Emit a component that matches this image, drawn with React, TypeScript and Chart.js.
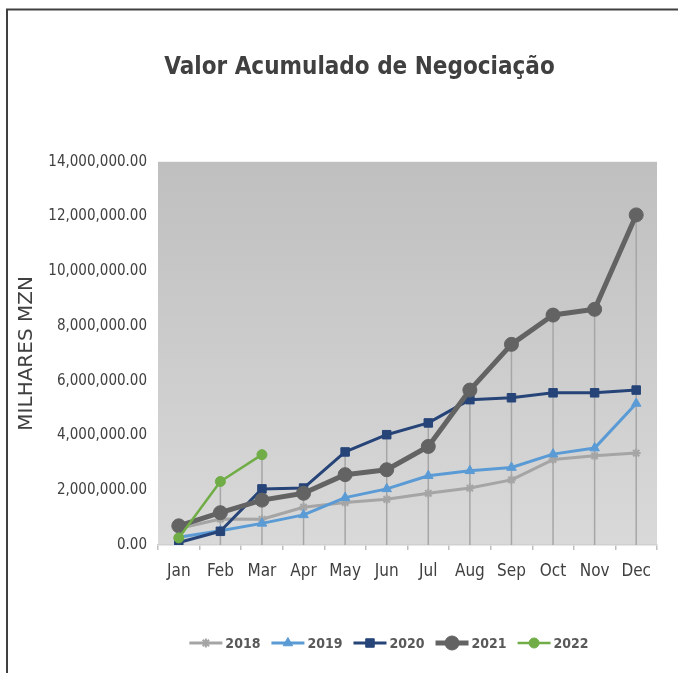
import React, { useEffect, useRef } from 'react';
import { Chart, registerables } from 'chart.js';

Chart.register(...registerables);

// ---- Data ----
const months = ['Jan', 'Feb', 'Mar', 'Apr', 'May', 'Jun', 'Jul', 'Aug', 'Sep', 'Oct', 'Nov', 'Dec'];
const seriesLabels = ['2018', '2019', '2020', '2021', '2022'];
const v2018 = [600000, 950000, 940000, 1380000, 1550000, 1670000, 1890000, 2080000, 2380000, 3120000, 3260000, 3360000];
const v2019 = [280000, 520000, 790000, 1100000, 1730000, 2050000, 2530000, 2710000, 2830000, 3320000, 3540000, 5170000];
const v2020 = [90000, 500000, 2050000, 2080000, 3400000, 4030000, 4460000, 5310000, 5380000, 5560000, 5560000, 5660000];
const v2021 = [700000, 1180000, 1640000, 1890000, 2570000, 2750000, 3600000, 5660000, 7330000, 8400000, 8610000, 12060000];
const v2022 = [260000, 2320000, 3300000];
const yMin = 0;
const yMax = 14000000;
const yStep = 2000000;

const NARROW = '"Liberation Sans Narrow", "DejaVu Sans Condensed", "Arial Narrow", sans-serif';
const WIDE = '"DejaVu Sans", "Liberation Sans", sans-serif';

function drawMarker(
  ctx: CanvasRenderingContext2D,
  style: string,
  r: number,
  x: number,
  y: number,
  fill: string,
  stroke: string,
  bw: number
) {
  ctx.save();
  ctx.fillStyle = fill;
  ctx.strokeStyle = stroke;
  ctx.lineWidth = bw;
  ctx.beginPath();
  if (style === 'circle') {
    ctx.arc(x, y, r, 0, Math.PI * 2);
    ctx.closePath();
    ctx.fill();
    if (bw) ctx.stroke();
  } else if (style === 'triangle') {
    let rad = 0;
    ctx.moveTo(x + Math.sin(rad) * r, y - Math.cos(rad) * r);
    rad += (2 * Math.PI) / 3;
    ctx.lineTo(x + Math.sin(rad) * r, y - Math.cos(rad) * r);
    rad += (2 * Math.PI) / 3;
    ctx.lineTo(x + Math.sin(rad) * r, y - Math.cos(rad) * r);
    ctx.closePath();
    ctx.fill();
    if (bw) ctx.stroke();
  } else if (style === 'rect') {
    const s = r * Math.SQRT1_2;
    ctx.rect(x - s, y - s, 2 * s, 2 * s);
    ctx.fill();
    if (bw) ctx.stroke();
  } else if (style === 'star') {
    for (let k = 0; k < 4; k++) {
      const a = (k * Math.PI) / 4;
      ctx.moveTo(x + Math.cos(a) * r, y + Math.sin(a) * r);
      ctx.lineTo(x - Math.cos(a) * r, y - Math.sin(a) * r);
    }
    ctx.stroke();
  }
  ctx.restore();
}

const bgPlugin = {
  id: 'plotBg',
  beforeDraw(chart: any) {
    const { ctx, chartArea } = chart;
    if (!chartArea) return;
    const { left, top, right, bottom } = chartArea;
    ctx.save();
    const g = ctx.createLinearGradient(0, top, 0, bottom);
    g.addColorStop(0, '#bfbfbf');
    g.addColorStop(1, '#d9d9d9');
    ctx.fillStyle = g;
    ctx.fillRect(left, top, right - left, bottom - top);
    ctx.restore();
  },
};

const dropLinePlugin = {
  id: 'dropLines',
  beforeDatasetsDraw(chart: any) {
    const { ctx, chartArea, scales } = chart;
    const ds = chart.data.datasets;
    ctx.save();
    ctx.strokeStyle = '#a6a6a6';
    ctx.lineWidth = 1.5;
    chart.data.labels.forEach((_: any, i: number) => {
      let max = -Infinity;
      ds.forEach((d: any) => {
        const v = d.data[i];
        if (typeof v === 'number' && v > max) max = v;
      });
      if (max === -Infinity) return;
      const x = scales.x.getPixelForValue(i);
      const y = scales.y.getPixelForValue(max);
      ctx.beginPath();
      ctx.moveTo(x, y);
      ctx.lineTo(x, chartArea.bottom);
      ctx.stroke();
    });
    ctx.restore();
  },
};

const legendPlugin = {
  id: 'customLegend',
  afterDraw(chart: any) {
    const { ctx } = chart;
    const ds = chart.data.datasets;
    ctx.save();
    ctx.font = `bold 14px ${NARROW}`;
    const lineLen = 33;
    const gap = 3;
    const itemPad = 11;
    const widths = ds.map((d: any) => lineLen + gap + ctx.measureText(d.label).width);
    const total = widths.reduce((a: number, b: number) => a + b, 0) + itemPad * (ds.length - 1);
    let x = 389 - total / 2;
    const y = 643;
    ds.forEach((d: any, i: number) => {
      ctx.strokeStyle = d.borderColor;
      ctx.lineWidth = d.borderWidth;
      ctx.lineCap = 'butt';
      ctx.beginPath();
      ctx.moveTo(x, y);
      ctx.lineTo(x + lineLen, y);
      ctx.stroke();
      drawMarker(ctx, d.pointStyle, d.pointRadius, x + lineLen / 2, y, d.pointBackgroundColor, d.pointBorderColor, d.pointBorderWidth);
      ctx.fillStyle = '#595959';
      ctx.textAlign = 'left';
      ctx.textBaseline = 'middle';
      ctx.fillText(d.label, x + lineLen + gap, y + 1);
      x += widths[i] + itemPad;
    });
    ctx.restore();
  },
};

const framePlugin = {
  id: 'frame',
  afterDraw(chart: any) {
    const { ctx } = chart;
    ctx.save();
    ctx.strokeStyle = '#404040';
    ctx.lineWidth = 2;
    ctx.beginPath();
    ctx.moveTo(7, 700);
    ctx.lineTo(7, 9.5);
    ctx.lineTo(760, 9.5);
    ctx.stroke();
    ctx.restore();
  },
};

export default function App() {
  const ref = useRef<HTMLCanvasElement>(null);

  useEffect(() => {
    if (!ref.current) return;
    const colors = ['#a5a5a5', '#5b9bd5', '#264478', '#636363', '#70ad47'];
    const widths = [3, 3, 3, 5, 2.5];
    const styles = ['star', 'triangle', 'rect', 'circle', 'circle'];
    const radii = [4.5, 5.5, 6, 7, 5];
    const values = [v2018, v2019, v2020, v2021, v2022];
    const datasets = values.map((vals, i) => ({
      label: seriesLabels[i],
      data: vals,
      borderColor: colors[i],
      backgroundColor: colors[i],
      borderWidth: widths[i],
      pointStyle: styles[i],
      pointRadius: radii[i],
      pointBackgroundColor: colors[i],
      pointBorderColor: colors[i],
      pointBorderWidth: styles[i] === 'star' ? 2 : 1,
      tension: 0,
      borderJoinStyle: 'round' as const,
      fill: false,
      order: 5 - i,
    }));

    const chart = new Chart(ref.current, {
      type: 'line',
      data: { labels: months, datasets },
      plugins: [bgPlugin, dropLinePlugin, legendPlugin, framePlugin],
      options: {
        responsive: false,
        animation: false,
        devicePixelRatio: 1,
        layout: { padding: { left: 15, right: 15, top: 0, bottom: 92 } },
        plugins: {
          legend: { display: false },
          tooltip: { enabled: false },
          title: {
            display: true,
            text: 'Valor Acumulado de Negociação',
            color: '#404040',
            font: { family: NARROW, size: 24, weight: 'bold' },
            padding: { top: 53, bottom: 80 },
          },
        },
        scales: {
          x: {
            offset: true,
            grid: {
              display: true,
              offset: true,
              drawOnChartArea: false,
              drawTicks: true,
              tickLength: 5,
              color: '#bfbfbf',
              lineWidth: 1.5,
            },
            border: { display: true, color: '#d0d0d0', width: 1.5 },
            ticks: {
              color: '#404040',
              font: { family: NARROW, size: 17 },
              padding: 11,
              maxRotation: 0,
              autoSkip: false,
            },
            afterFit: (scale: any) => {
              scale.height = 36;
            },
          },
          y: {
            min: yMin,
            max: yMax,
            grid: { display: false, drawTicks: false },
            border: { display: false },
            ticks: {
              stepSize: yStep,
              color: '#404040',
              font: { family: NARROW, size: 15 },
              padding: 11,
              callback: (v: any) =>
                Number(v).toLocaleString('en-US', { minimumFractionDigits: 2, maximumFractionDigits: 2 }),
            },
            title: {
              display: true,
              text: 'MILHARES MZN',
              color: '#404040',
              font: { family: WIDE, size: 20 },
              padding: { top: 0, bottom: 0 },
            },
            afterFit: (scale: any) => {
              scale.width = 143;
            },
          },
          // empty spacer axis on the right so the chart title centres like the original
          ySpacer: {
            type: 'linear',
            position: 'right',
            display: true,
            grid: { display: false, drawTicks: false },
            border: { display: false },
            ticks: { display: false },
            afterFit: (scale: any) => {
              scale.width = 47;
            },
          },
        },
      },
    } as any);

    return () => chart.destroy();
  }, []);

  return (
    <div
      style={{
        position: 'fixed',
        left: 0,
        top: 0,
        width: 678,
        height: 673,
        overflow: 'hidden',
        background: '#ffffff',
      }}
    >
      <canvas ref={ref} width={719} height={673} style={{ display: 'block' }} />
    </div>
  );
}
